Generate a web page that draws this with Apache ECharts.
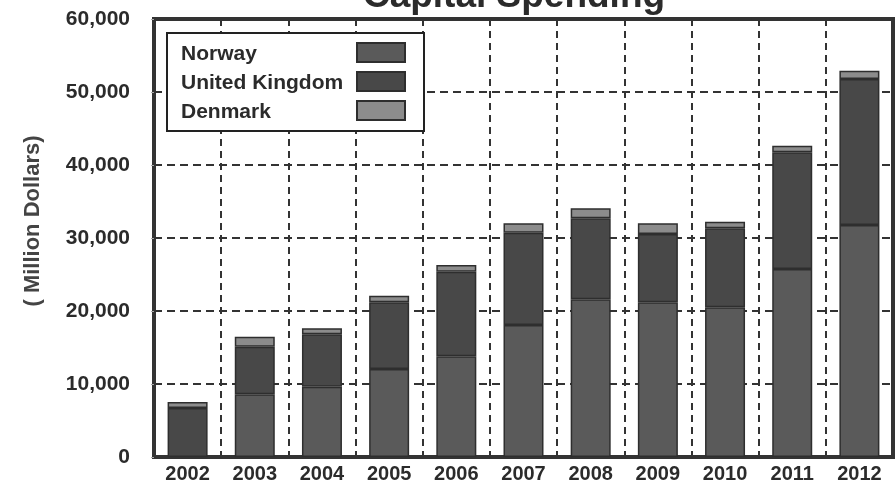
<!DOCTYPE html>
<html>
<head>
<meta charset="utf-8">
<script src="https://cdn.jsdelivr.net/npm/echarts@6/dist/echarts.min.js"></script>
<style>
html,body{margin:0;padding:0;background:#fff;}
#chart{width:895px;height:488px;}
</style>
</head>
<body>
<div id="chart"></div>
<script>
var years = ['2002','2003','2004','2005','2006','2007','2008','2009','2010','2011','2012'];
var norway = [null, 8590, 9630, 12050, 13800, 18080, 21600, 21190, 20500, 25750, 31780];
var unitedKingdom = [6700, 6520, 7180, 9140, 11580, 12650, 11100, 9360, 10830, 15990, 20000];
var denmark = [830, 1370, 820, 910, 920, 1280, 1360, 1460, 900, 910, 1140];
var yTicks = [0, 10000, 20000, 30000, 40000, 50000, 60000];

var FONT = 'Liberation Sans, Arial, sans-serif';
var chart = echarts.init(document.getElementById('chart'), null, {renderer: 'canvas'});

function barSeries(name, data, color) {
  return {
    name: name,
    type: 'bar',
    stack: 'total',
    data: data,
    barWidth: 40,
    itemStyle: {color: color, borderColor: '#2e2e2e', borderWidth: 1.5}
  };
}

var option = {
  backgroundColor: '#ffffff',
  animation: false,
  graphic: [{
    type: 'text',
    x: 514,
    y: -3,
    z: 10,
    style: {
      text: 'Capital Spending',
      font: 'bold 37px ' + FONT,
      fill: '#2b2b2b',
      textAlign: 'center',
      textVerticalAlign: 'middle'
    }
  }],
  grid: {left: 154, right: 2, top: 19, bottom: 31, show: true, borderColor: '#333', borderWidth: 4, backgroundColor: 'transparent'},
  legend: {
    orient: 'vertical',
    left: 167,
    top: 33,
    align: 'right',
    icon: 'rect',
    itemWidth: 48,
    itemHeight: 19,
    itemGap: 4,
    padding: [7, 18, 8, 14],
    backgroundColor: '#ffffff',
    borderColor: '#222',
    borderWidth: 2,
    z: 20,
    formatter: function (name) { return '{a|' + name + '}'; },
    textStyle: {
      fontFamily: FONT, fontWeight: 'bold', fontSize: 21, color: '#2b2b2b',
      rich: {a: {fontFamily: FONT, fontWeight: 'bold', fontSize: 21, color: '#2b2b2b', width: 171, align: 'left', lineHeight: 19, padding: [4, 0, 0, 0]}}
    },
    data: ['Norway', 'United Kingdom', 'Denmark']
  },
  xAxis: {
    type: 'category',
    data: years,
    axisLine: {lineStyle: {color: '#333', width: 4}},
    axisTick: {show: false},
    axisLabel: {fontFamily: FONT, fontWeight: 'bold', fontSize: 20, color: '#2b2b2b', margin: 7},
    splitLine: {show: true, lineStyle: {color: '#333', width: 2, type: [7, 5]}}
  },
  yAxis: {
    type: 'value',
    min: 0,
    max: 60000,
    interval: 10000,
    name: '( Million Dollars)',
    nameLocation: 'middle',
    nameGap: 110,
    nameTextStyle: {fontFamily: FONT, fontWeight: 'bold', fontSize: 22, color: '#444', padding: [0, 0, 0, 34]},
    axisLine: {show: true, lineStyle: {color: '#333', width: 4}},
    axisTick: {show: true, length: 3, lineStyle: {color: '#aaa'}},
    axisLabel: {
      fontFamily: FONT, fontWeight: 'bold', fontSize: 21, color: '#2b2b2b', margin: 24,
      formatter: function (v) { return yTicks.indexOf(v) >= 0 ? v.toLocaleString('en-US') : ''; }
    },
    splitLine: {show: true, lineStyle: {color: '#333', width: 2, type: [8, 5]}}
  },
  series: [
    barSeries('Norway', norway, '#5a5a5a'),
    barSeries('United Kingdom', unitedKingdom, '#484848'),
    barSeries('Denmark', denmark, '#8c8c8c')
  ]
};
chart.setOption(option);
</script>
</body>
</html>
